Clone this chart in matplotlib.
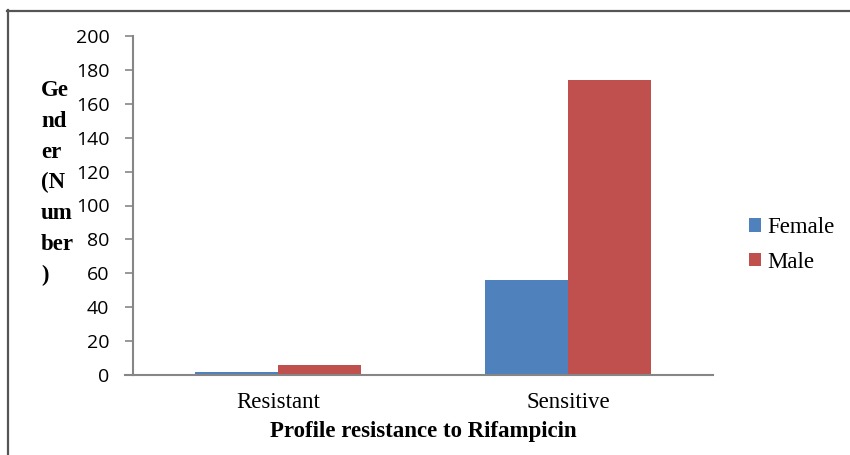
import numpy as np
from matplotlib import pyplot as plt
from matplotlib.lines import Line2D

categories = ['Resistant', 'Sensitive']
female = [2, 56]
male = [6, 174]
series_names = ['Female', 'Male']
colors = ['#4F81BD', '#C0504D']

W, H = 850, 455
fig = plt.figure(figsize=(W / 100, H / 100), dpi=100)
ax = fig.add_axes([133 / W, 1 - 375 / H, (713 - 133) / W, (375 - 36) / H])

x = np.arange(len(categories))
bw = 1 / 3.5  # Excel gap width 150%
ax.bar(x - bw / 2, female, bw, color=colors[0], label=series_names[0])
ax.bar(x + bw / 2, male, bw, color=colors[1], label=series_names[1])

ax.set_xlim(-0.5, len(categories) - 0.5)
ax.set_ylim(0, 200)
ax.set_yticks(np.arange(0, 201, 20))
ax.set_xticks(x)
ax.set_xticklabels(categories, family='Liberation Serif', fontsize=16.5)
ax.tick_params(axis='x', length=0, pad=12)
ax.tick_params(axis='y', length=6, width=1.2, color='#868686', pad=11)
for t in ax.get_yticklabels():
    t.set_family('Open Sans')
    t.set_fontsize(14)

for s in ['top', 'right']:
    ax.spines[s].set_visible(False)
for s in ['left', 'bottom']:
    ax.spines[s].set_color('#868686')
    ax.spines[s].set_linewidth(1.5)

# x-axis line sticks out past the y axis
ax.plot([-0.5 - 8 / 580 * 2, -0.5], [0, 0], color='#868686', lw=1.5, clip_on=False)

ax.set_xlabel('Profile resistance to Rifampicin', family='Liberation Serif',
              fontsize=16.5, fontweight='bold', labelpad=6)

# the y label is wrapped into narrow pieces
fig.text(41 / W, 1 - 183 / H, 'Ge\nnd\ner\n(N\num\nber\n)', family='Liberation Serif',
         fontsize=16.5, fontweight='bold', ha='left', va='center', linespacing=1.6)

fig.legend(loc='center left', bbox_to_anchor=(738 / W, 1 - 245 / H), frameon=False,
           prop={'family': 'Liberation Serif', 'size': 16.5}, handlelength=0.5,
           handleheight=0.5, handletextpad=0.3, labelspacing=0.6, borderpad=0)

# outer border (left and top only visible)
fig.add_artist(Line2D([7.5 / W, 7.5 / W], [0, 1 - 10 / H], color='#555555', lw=1.6))
fig.add_artist(Line2D([7 / W, 1], [1 - 10.5 / H, 1 - 10.5 / H], color='#555555', lw=1.6))

fig.savefig('out.png', dpi=100)
